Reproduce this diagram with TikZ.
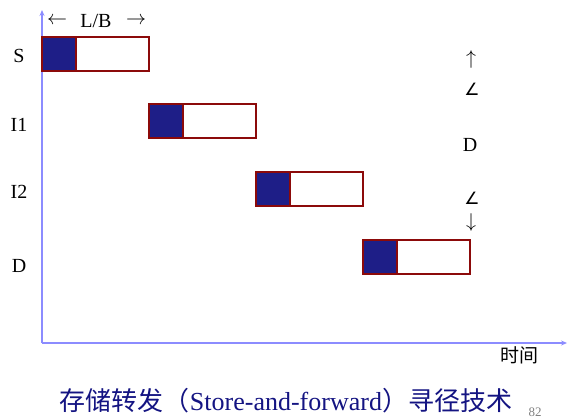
\RequirePackage{fix-cm}
\documentclass[tikz,border=0pt]{standalone}
\usepackage{fontspec}
\setmainfont{Liberation Serif}
\newfontfamily\cjk{Noto Sans CJK SC}
\newfontfamily\sym{DejaVu Sans}
\usetikzlibrary{arrows.meta}
\definecolor{axisblue}{RGB}{140,140,255}
\definecolor{boxred}{RGB}{140,10,10}
\definecolor{pktblue}{RGB}{30,30,135}
\definecolor{titleblue}{RGB}{20,20,130}
\tikzset{
  pkt/.style={draw=boxred, line width=1.6pt, fill=white},
  hdr/.style={draw=boxred, line width=1.6pt, fill=pktblue},
  axisline/.style={draw=axisblue, line width=1.3pt, -{Stealth[length=6pt,width=5pt]}},
  lbl/.style={font=\fontsize{20}{22}\selectfont, inner sep=0pt},
  symb/.style={font=\sym\fontsize{17}{20}\selectfont, inner sep=0pt}
}
\begin{document}
\begin{tikzpicture}[x=1pt,y=-1pt]
\useasboundingbox (0,0) rectangle (568,420);
% axes
\coordinate (o) at (42,343);
\coordinate (ytop) at (42,10);
\coordinate (xend) at (567,343);
\draw[axisline] (o) -- (ytop);
\draw[axisline] (o) -- (xend);
% packets
\draw[pkt] (42,37) rectangle (149,71);
\draw[hdr] (42,37) rectangle (76,71);
\draw[pkt] (149,104) rectangle (256,138);
\draw[hdr] (149,104) rectangle (183,138);
\draw[pkt] (256,172) rectangle (363,206);
\draw[hdr] (256,172) rectangle (290,206);
\draw[pkt] (363,240) rectangle (470,274);
\draw[hdr] (363,240) rectangle (397,274);
% labels
\node[lbl] (s) at (19,56) {S};
\node[lbl] (i1) at (19,125) {I1};
\node[lbl] (i2) at (19,192) {I2};
\node[lbl] (d) at (19,266) {D};
\node[lbl] (la) at (57,21) {$\leftarrow$};
\node[lbl] (lb) at (96,21) {L/B};
\node[lbl] (ra) at (136,21) {$\rightarrow$};
\node[lbl] (up) at (471,60) {$\uparrow$};
\node[symb] (ang1) at (472,89) {∠};
\node[lbl] (dd) at (470,145) {D};
\node[symb] (ang2) at (472,198) {∠};
\node[lbl] (down) at (471,222) {$\downarrow$};
\node[lbl, font=\cjk\fontsize{19}{21}\selectfont] (time) at (519,355) {时间};
\node[lbl, text=titleblue, font=\fontsize{26}{29}\selectfont] (title) at (286,401) {{\cjk 存储转发（}Store-and-forward{\cjk ）寻径技术}};
\node[lbl, text=gray, font=\fontsize{13}{14}\selectfont] (pg) at (535,412) {82};
\end{tikzpicture}
\end{document}
